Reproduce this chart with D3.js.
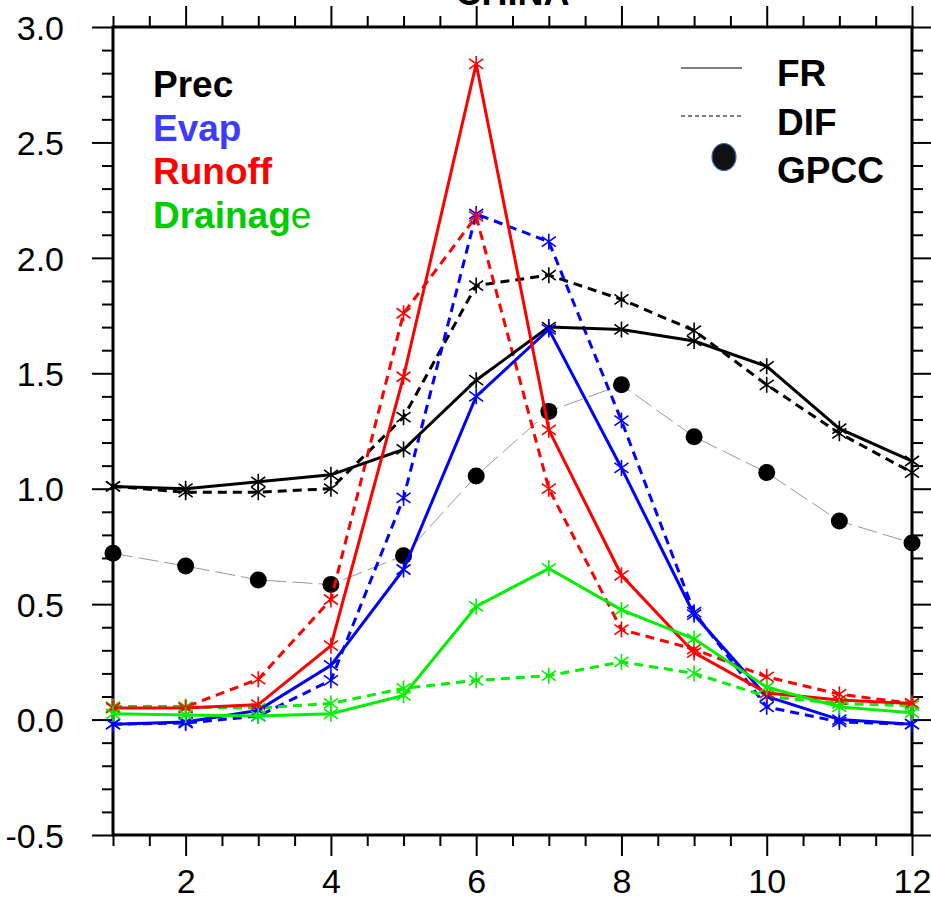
<!DOCTYPE html>
<html>
<head>
<meta charset="utf-8">
<script src="https://cdn.jsdelivr.net/npm/d3@7"></script>
<style>
  html, body { margin: 0; padding: 0; background: #fff; }
  svg { display: block; }
  text { font-family: "Liberation Sans", Arial, Helvetica, sans-serif; }
</style>
</head>
<body>
<svg id="chart" width="931" height="917"></svg>
<script>
// Monthly water budget over China (mm/day)
const months = [1, 2, 3, 4, 5, 6, 7, 8, 9, 10, 11, 12];
const xTickLabels = ["2", "4", "6", "8", "10", "12"];
const yTickLabels = ["-0.5", "0.0", "0.5", "1.0", "1.5", "2.0", "2.5", "3.0"];

// FR run (solid)
const precFR     = [1.01, 1.00, 1.03, 1.06, 1.17, 1.47, 1.70, 1.69, 1.64, 1.53, 1.26, 1.12];
const evapFR     = [-0.02, -0.01, 0.04, 0.235, 0.65, 1.40, 1.69, 1.09, 0.455, 0.10, 0.00, -0.02];
const runoffFR   = [0.05, 0.05, 0.065, 0.32, 1.485, 2.84, 1.255, 0.625, 0.29, 0.115, 0.085, 0.07];
const drainFR    = [0.025, 0.02, 0.015, 0.025, 0.105, 0.49, 0.655, 0.475, 0.35, 0.14, 0.055, 0.03];

// DIF run (dashed)
const precDIF    = [1.01, 0.985, 0.985, 1.00, 1.31, 1.88, 1.925, 1.82, 1.685, 1.45, 1.24, 1.07];
const evapDIF    = [-0.02, -0.015, 0.015, 0.17, 0.96, 2.19, 2.07, 1.295, 0.465, 0.055, -0.01, -0.02];
const runoffDIF  = [0.055, 0.055, 0.175, 0.52, 1.76, 2.18, 1.00, 0.39, 0.305, 0.185, 0.11, 0.07];
const drainDIF   = [0.055, 0.055, 0.05, 0.07, 0.135, 0.17, 0.19, 0.25, 0.20, 0.10, 0.07, 0.06];

// GPCC observed precipitation
const precGPCC   = [0.72, 0.665, 0.605, 0.585, 0.71, 1.055, 1.335, 1.45, 1.225, 1.07, 0.86, 0.765];

const colors = { prec: "#000000", evap: "#0000ff", runoff: "#ff0000", drain: "#00f000" };

const svg = d3.select("#chart");
const plotL = 113, plotR = 912, plotT = 27, plotB = 835;

const x = d3.scaleLinear().domain([1, 12]).range([plotL, plotR]);
const y = d3.scaleLinear().domain([-0.5, 3.0]).range([plotB, plotT]);

// Title (runs off the top edge of the page)
svg.append("text")
  .attr("x", (plotL + plotR) / 2).attr("y", 5)
  .attr("text-anchor", "middle")
  .attr("font-size", 36).attr("font-weight", "bold")
  .text("CHINA");

// Axes: major/minor ticks on all four sides, labels on bottom and left
const xMajor = [2, 4, 6, 8, 10, 12];
const xMinor = d3.range(1, 12.01, 0.5).filter(v => !xMajor.includes(v));
const yMajor = yTickLabels.map(Number);
const yMinor = d3.range(-0.5, 3.001, 0.1).map(v => Math.round(v * 10) / 10)
  .filter(v => !yMajor.some(m => Math.abs(m - v) < 1e-6));

function drawAxis(axisGen, transform) {
  const g = svg.append("g").attr("transform", transform).call(axisGen);
  g.select(".domain").remove();
  g.selectAll("line").attr("stroke", "#000").attr("stroke-width", 2);
  return g;
}

const majLen = 21, minLen = 11;
const tickFont = 34;
drawAxis(d3.axisBottom(x).tickValues(xMajor).tickSize(majLen)
  .tickFormat((d, i) => xTickLabels[i]), `translate(0,${plotB})`)
  .selectAll("text").attr("font-size", tickFont).attr("fill", "#000")
  .attr("y", 58).attr("dy", 0);
drawAxis(d3.axisBottom(x).tickValues(xMinor).tickSize(minLen).tickFormat(""), `translate(0,${plotB})`);
drawAxis(d3.axisTop(x).tickValues(xMajor).tickSize(majLen).tickFormat(""), `translate(0,${plotT})`);
drawAxis(d3.axisTop(x).tickValues(xMinor).tickSize(minLen).tickFormat(""), `translate(0,${plotT})`);

drawAxis(d3.axisLeft(y).tickValues(yMajor).tickSize(majLen).tickPadding(28)
  .tickFormat((d, i) => yTickLabels[i]), `translate(${plotL},0)`)
  .selectAll("text").attr("font-size", tickFont).attr("fill", "#000").attr("dy", "0.36em");
drawAxis(d3.axisLeft(y).tickValues(yMinor).tickSize(minLen).tickFormat(""), `translate(${plotL},0)`);
drawAxis(d3.axisRight(y).tickValues(yMajor).tickSize(majLen).tickFormat(""), `translate(${plotR},0)`);
drawAxis(d3.axisRight(y).tickValues(yMinor).tickSize(minLen).tickFormat(""), `translate(${plotR},0)`);

// Frame
svg.append("rect")
  .attr("x", plotL).attr("y", plotT)
  .attr("width", plotR - plotL).attr("height", plotB - plotT)
  .attr("fill", "none").attr("stroke", "#000").attr("stroke-width", 3);

const line = d3.line().x((d, i) => x(months[i])).y(d => y(d));

// Asterisk marker
const asterisk = "M0,-8L0,8M-7,-5L7,5M-7,5L7,-5";

function series(values, color, dashed) {
  const g = svg.append("g");
  g.append("path")
    .attr("d", line(values))
    .attr("fill", "none").attr("stroke", color)
    .attr("stroke-width", 3)
    .attr("stroke-dasharray", dashed ? "9,6" : null);
  g.selectAll("path.m").data(values).join("path")
    .attr("class", "m")
    .attr("d", asterisk)
    .attr("transform", (d, i) => `translate(${x(months[i])},${y(d)})`)
    .attr("fill", "none").attr("stroke", color).attr("stroke-width", 1.6);
}

// GPCC thin dashed line with dots
svg.append("path")
  .attr("d", line(precGPCC))
  .attr("fill", "none").attr("stroke", "#999").attr("stroke-width", 1)
  .attr("stroke-dasharray", "20,6");
svg.append("g").selectAll("circle").data(precGPCC).join("circle")
  .attr("cx", (d, i) => x(months[i])).attr("cy", d => y(d))
  .attr("r", 8.5).attr("fill", "#000");

series(precDIF, colors.prec, true);
series(evapDIF, colors.evap, true);
series(runoffDIF, colors.runoff, true);
series(drainDIF, colors.drain, true);
series(precFR, colors.prec, false);
series(evapFR, colors.evap, false);
series(runoffFR, colors.runoff, false);
series(drainFR, colors.drain, false);

// Variable legend (upper left)
const legendFont = 37;
const varLegend = [
  { label: "Prec", color: "#000000" },
  { label: "Evap", color: "#3c3cff" },
  { label: "Runoff", color: "#ff0000" },
  { label: "Drainage", color: "#00cc00" }
];
varLegend.forEach((d, i) => {
  const t = svg.append("text")
    .attr("x", 153).attr("y", 97 + i * 43.7)
    .attr("font-size", legendFont).attr("fill", d.color);
  if (d.label === "Drainage") {
    t.append("tspan").attr("font-weight", "bold").text("Drainag");
    t.append("tspan").attr("font-weight", "normal").text("e");
  } else {
    t.attr("font-weight", "bold").text(d.label);
  }
});

// Experiment legend (upper right)
svg.append("line").attr("x1", 681).attr("x2", 742).attr("y1", 68).attr("y2", 68)
  .attr("stroke", "#000").attr("stroke-width", 1.2);
svg.append("line").attr("x1", 681).attr("x2", 742).attr("y1", 116).attr("y2", 116)
  .attr("stroke", "#000").attr("stroke-width", 1.2).attr("stroke-dasharray", "4,3");
svg.append("ellipse").attr("cx", 724).attr("cy", 157).attr("rx", 12).attr("ry", 13.5)
  .attr("fill", "#111").attr("stroke", "#3a6cb0").attr("stroke-width", 1.2);
const expLegend = ["FR", "DIF", "GPCC"];
expLegend.forEach((lab, i) => {
  svg.append("text")
    .attr("x", 777).attr("y", 86 + i * 48.5)
    .attr("font-size", legendFont).attr("font-weight", "bold").attr("fill", "#000")
    .text(lab);
});
</script>
</body>
</html>
